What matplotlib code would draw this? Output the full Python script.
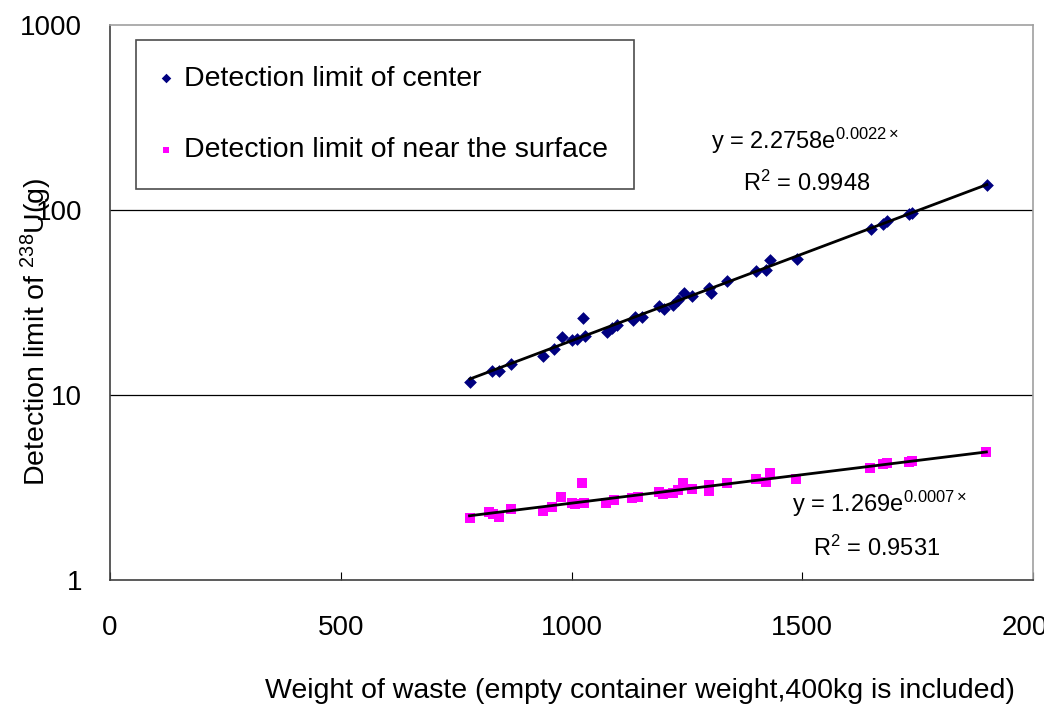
import numpy as np
import matplotlib
matplotlib.use("Agg")
import matplotlib.pyplot as plt

# Detection limit of center (blue diamonds)
center_x = [780, 827, 842, 869, 939, 961, 979, 1001, 1013, 1024, 1030, 1077, 1087, 1098,
            1133, 1138, 1152, 1189, 1201, 1221, 1230, 1243, 1261, 1299, 1302, 1337,
            1400, 1422, 1431, 1489, 1649, 1675, 1683, 1731, 1738, 1900]
center_y = [11.8, 13.5, 13.4, 14.8, 16.2, 17.7, 20.5, 19.8, 20.0, 26.1, 20.8, 22.0, 22.9, 23.9,
            25.4, 26.5, 26.5, 30.4, 29.2, 30.6, 32.6, 35.8, 34.3, 37.7, 35.7, 41.5,
            46.8, 47.4, 53.7, 54.1, 78.7, 84.0, 87.2, 95.1, 96.8, 136.5]

# Detection limit of near the surface (magenta squares)
surf_x = [779, 822, 830, 842, 869, 938, 957, 977, 1001, 1008, 1023, 1028, 1075, 1093,
          1131, 1145, 1189, 1199, 1221, 1230, 1241, 1261, 1297, 1299, 1337,
          1400, 1422, 1431, 1487, 1646, 1675, 1683, 1731, 1738, 1899]
surf_y = [2.17, 2.34, 2.27, 2.18, 2.41, 2.37, 2.47, 2.80, 2.60, 2.57, 3.33, 2.62, 2.62, 2.71,
          2.76, 2.80, 3.00, 2.92, 2.94, 3.06, 3.33, 3.10, 3.26, 3.04, 3.33,
          3.50, 3.40, 3.77, 3.52, 4.02, 4.22, 4.31, 4.36, 4.42, 4.90]

x_ticks = [0, 500, 1000, 1500, 2000]
y_ticks = [1, 10, 100, 1000]
y_tick_labels = ["1", "10", "100", "1000"]

plt.rcParams['font.family'] = ['Liberation Sans', 'DejaVu Sans']
plt.rcParams['mathtext.fontset'] = 'custom'
plt.rcParams['mathtext.rm'] = 'Liberation Sans'
plt.rcParams['mathtext.it'] = 'Liberation Sans'

W, H = 1044, 704
fig = plt.figure(figsize=(W/100, H/100), dpi=100)
ax = fig.add_axes([110/W, 1 - 580/H, (1033-110)/W, (580-25)/H])

ax.set_yscale('log')
ax.set_xlim(0, 2000)
ax.set_ylim(1, 1000)

for yv in [10, 100]:
    ax.axhline(yv, color='black', lw=0.9, zorder=1)

ax.scatter(center_x, center_y, marker='D', s=42, color='#000080', zorder=3,
           label='Detection limit of center', linewidths=0)
ax.scatter(surf_x, surf_y, marker='s', s=44, color='#FF00FF', zorder=3,
           label='Detection limit of near the surface', linewidths=0)

# exponential trendlines fitted to the data
for xs, ys in [(center_x, center_y), (surf_x, surf_y)]:
    xs = np.array(xs, float); ys = np.array(ys, float)
    b, a = np.polyfit(xs, np.log(ys), 1)
    xx = np.linspace(xs.min(), xs.max(), 100)
    ax.plot(xx, np.exp(a) * np.exp(b * xx), color='black', lw=2, zorder=4)

ax.set_xticks(x_ticks)
ax.set_xticklabels([str(v) for v in x_ticks], fontsize=20)
ax.set_yticks(y_ticks)
ax.set_yticklabels(y_tick_labels, fontsize=20)
ax.yaxis.set_minor_locator(matplotlib.ticker.NullLocator())
ax.tick_params(axis='x', direction='in', length=6, pad=25)
ax.tick_params(axis='y', direction='in', length=0, pad=20)

ax.spines['left'].set_color('#404040')
ax.spines['bottom'].set_color('#404040')
ax.spines['top'].set_color('#a0a0a0')
ax.spines['right'].set_color('#a0a0a0')
for s in ax.spines.values():
    s.set_linewidth(1.2)

ax.set_xlabel('Weight of waste (empty container weight,400kg is included)', fontsize=20.5,
              labelpad=27, x=(640-110)/923)
fig.text(36/W, 1 - 332/H, 'Detection limit of $^{238}$U(g)', rotation=90,
         ha='center', va='center', fontsize=20.5)

leg = ax.legend(loc='upper left', bbox_to_anchor=((136-110)/923, 1 - (40-25)/555),
                fontsize=20.5, frameon=True, fancybox=False, edgecolor='#202020',
                labelspacing=1.6, borderpad=0.9, handlelength=0.3, handletextpad=0.5,
                markerscale=0.75, borderaxespad=0)
leg.get_frame().set_linewidth(1.2)

def dtext(px, py, s):
    fig.text(px/W, 1 - py/H, s, ha='center', va='center', fontsize=17)
dtext(805, 141, 'y = 2.2758e$^{0.0022\\times}$')
dtext(807, 183, 'R$^{2}$ = 0.9948')
dtext(880, 504, 'y = 1.269e$^{0.0007\\times}$')
dtext(877, 548, 'R$^{2}$ = 0.9531')

fig.savefig('out.png', dpi=100)
